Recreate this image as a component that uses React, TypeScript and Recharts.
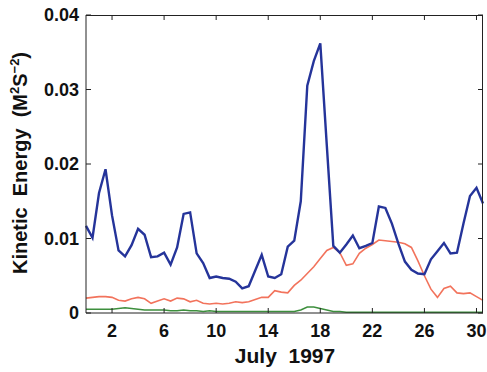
import { LineChart, Line, XAxis, YAxis } from "recharts";

const days = [
  0, 0.5, 1, 1.5, 2, 2.5, 3, 3.5, 4, 4.5, 5, 5.5, 6, 6.5, 7, 7.5, 8, 8.5, 9, 9.5,
  10, 10.5, 11, 11.5, 12, 12.5, 13, 13.5, 14, 14.5, 15, 15.5, 16, 16.5, 17, 17.5,
  18, 18.5, 19, 19.5, 20, 20.5, 21, 21.5, 22, 22.5, 23, 23.5, 24, 24.5, 25, 25.5,
  26, 26.5, 27, 27.5, 28, 28.5, 29, 29.5, 30, 30.5,
];

const blueKE = [
  0.0117, 0.0101, 0.0161, 0.0193, 0.0131, 0.0084, 0.0076, 0.0091, 0.0113, 0.0105,
  0.0075, 0.0076, 0.0081, 0.0065, 0.0088, 0.0133, 0.0135, 0.008, 0.0067, 0.0047,
  0.0049, 0.0047, 0.0046, 0.0042, 0.0033, 0.0036, 0.0057, 0.0078, 0.0049, 0.0047,
  0.0052, 0.0089, 0.0097, 0.015, 0.0305, 0.0338, 0.0362, 0.0225, 0.009, 0.0081,
  0.0092, 0.0104, 0.0087, 0.009, 0.0094, 0.0143, 0.0141, 0.012, 0.0093, 0.0069,
  0.0058, 0.0053, 0.0052, 0.0072, 0.0083, 0.0094, 0.008, 0.0081, 0.012, 0.0157,
  0.0168, 0.0147,
];

const redKE = [
  0.002, 0.0021, 0.0022, 0.0022, 0.0021, 0.0017, 0.0016, 0.0019, 0.0021, 0.0019,
  0.0013, 0.0016, 0.0019, 0.0016, 0.002, 0.0019, 0.0015, 0.0017, 0.0013, 0.0012,
  0.0013, 0.0012, 0.0013, 0.0015, 0.0014, 0.0015, 0.0018, 0.0021, 0.0021, 0.003,
  0.0028, 0.0027, 0.0037, 0.0044, 0.0053, 0.0062, 0.0073, 0.0084, 0.0088, 0.0081,
  0.0064, 0.0066, 0.008, 0.0087, 0.0092, 0.0098, 0.0097, 0.0096, 0.0095, 0.0093,
  0.0088, 0.007, 0.005, 0.0032, 0.0021, 0.0033, 0.0036, 0.0027, 0.0026, 0.0027,
  0.0022, 0.0017,
];

const greenKE = [
  0.0005, 0.0005, 0.0005, 0.0005, 0.0005, 0.0006, 0.0007, 0.0006, 0.0005, 0.0004,
  0.0004, 0.0004, 0.0004, 0.0003, 0.0003, 0.0004, 0.0003, 0.0003, 0.0002, 0.0003,
  0.0002, 0.0002, 0.0002, 0.0002, 0.0002, 0.0002, 0.0002, 0.0002, 0.0002, 0.0002,
  0.0002, 0.0002, 0.0002, 0.0004, 0.0008, 0.0008, 0.0006, 0.0004, 0.0002, 0.0002,
  0.0001, 0.0001, 0.0001, 0.0001, 0.0001, 0.0001, 0.0001, 0.0001, 0.0001, 0.0001,
  0.0001, 0.0001, 0.0001, 0.0001, 0.0001, 0.0001, 0.0001, 0.0001, 0.0001, 0.0001,
  0.0001, 0.0001,
];

const xTicks = [2, 6, 10, 14, 18, 22, 26, 30];
const yTicks = [0, 0.01, 0.02, 0.03, 0.04];
const X_MAX = 30.5;
const Y_MAX = 0.04;

const data = days.map((d, i) => ({
  day: d,
  blue: blueKE[i],
  red: redKE[i],
  green: greenKE[i],
}));

const W = 487;
const H = 372;
const M = { top: 15, right: 4, left: 0, bottom: 0 };
const Y_AXIS_W = 86;
const X_AXIS_H = 59;
const PLOT_W = W - M.left - M.right - Y_AXIS_W;
const PLOT_H = H - M.top - M.bottom - X_AXIS_H;

const FONT = "'Liberation Sans', Arial, Helvetica, sans-serif";
const tickStyle = { fontSize: 18, fontWeight: "bold", fill: "#111", fontFamily: FONT };

const YLabel = () => (
  <text
    transform="translate(27,163) rotate(-90)"
    textAnchor="middle"
    fontFamily={FONT}
    fontWeight="bold"
    fontSize={20}
    fill="#111"
  >
    {"Kinetic\u00a0\u00a0Energy\u00a0\u00a0(M"}
    <tspan fontSize={13} dy={-8}>2</tspan>
    <tspan dy={8}>S</tspan>
    <tspan fontSize={13} dy={-8}>{"\u22122"}</tspan>
    <tspan dy={8}>)</tspan>
  </text>
);

const XLabel = () => (
  <text
    x={285}
    y={363}
    textAnchor="middle"
    fontFamily={FONT}
    fontWeight="bold"
    fontSize={21}
    fill="#111"
  >
    {"July\u00a0\u00a01997"}
  </text>
);

// top and right edges of the box, with the inward ticks Matlab draws there
const Frame = () => {
  const sx = (v: number) => (v / X_MAX) * PLOT_W;
  const sy = (v: number) => PLOT_H - (v / Y_MAX) * PLOT_H;
  return (
    <svg
      width={PLOT_W + 1}
      height={PLOT_H + 1}
      style={{
        position: "absolute",
        left: M.left + Y_AXIS_W,
        top: M.top,
        pointerEvents: "none",
        overflow: "visible",
      }}
    >
      <g stroke="#222" strokeWidth={1}>
        <line x1={0} y1={0.5} x2={PLOT_W} y2={0.5} />
        <line x1={PLOT_W - 0.5} y1={0} x2={PLOT_W - 0.5} y2={PLOT_H} />
        {xTicks.map((t) => (
          <line key={"tx" + t} x1={sx(t)} x2={sx(t)} y1={0} y2={5} />
        ))}
        {yTicks.map((t) => (
          <line key={"ty" + t} x1={PLOT_W} x2={PLOT_W - 5} y1={sy(t)} y2={sy(t)} />
        ))}
      </g>
    </svg>
  );
};

export default function App() {
  return (
    <div style={{ position: "absolute", left: 0, top: 0, width: W, height: H, background: "#fff" }}>
      <LineChart width={W} height={H} data={data} margin={M}>
        <XAxis
          dataKey="day"
          type="number"
          domain={[0, X_MAX]}
          ticks={xTicks}
          height={X_AXIS_H}
          tickSize={-5}
          tickMargin={16}
          stroke="#222"
          tick={tickStyle}
          interval={0}
          label={<XLabel />}
        />
        <YAxis
          type="number"
          domain={[0, Y_MAX]}
          ticks={yTicks}
          width={Y_AXIS_W}
          tickSize={-5}
          tickMargin={12}
          stroke="#222"
          tick={tickStyle}
          interval={0}
          tickFormatter={(v: number) => (v === 0 ? "0" : v.toFixed(2))}
          label={<YLabel />}
        />
        <Line
          dataKey="green"
          stroke="#3d8f3d"
          strokeWidth={1.5}
          dot={false}
          isAnimationActive={false}
        />
        <Line
          dataKey="red"
          stroke="#f2735c"
          strokeWidth={1.6}
          dot={false}
          isAnimationActive={false}
        />
        <Line
          dataKey="blue"
          stroke="#25349a"
          strokeWidth={2.4}
          dot={false}
          isAnimationActive={false}
        />
      </LineChart>
      <Frame />
    </div>
  );
}
